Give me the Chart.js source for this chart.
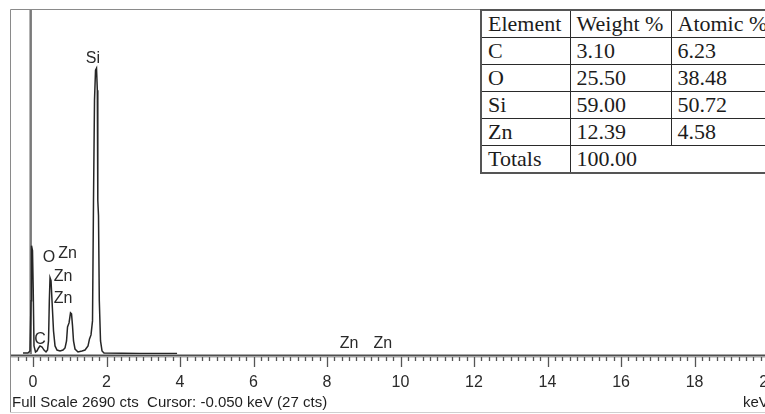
<!DOCTYPE html>
<html>
<head>
<meta charset="utf-8">
<script src="https://cdn.jsdelivr.net/npm/chart.js@4"></script>
<style>
  html, body { margin: 0; padding: 0; background: #fff; overflow: hidden; }
  #wrap { position: relative; width: 765px; height: 414px; overflow: hidden; }
  #spec { position: absolute; left: 0; top: 0; }
  #tbl {
    position: absolute; left: 480px; top: 9px; width: 300px; table-layout: fixed;
    border-collapse: collapse; background: #fff;
    font-family: "Liberation Serif", serif; font-size: 22px; color: #1c1c1c;
    border: 2px solid #555;
  }
  #tbl td { border: 1px solid #2a2a2a; height: 26px; padding: 0 0 0 6px; line-height: 26px; white-space: nowrap; overflow: hidden; }
</style>
</head>
<body>
<div id="wrap">
  <canvas id="spec" width="800" height="414"></canvas>
  <table id="tbl">
    <colgroup><col style="width:89px"><col style="width:101px"><col style="width:110px"></colgroup>
  </table>
</div>
<script>
// spectrum (keV, counts)
var energy = [-0.272, -0.136, -0.082, -0.054, -0.041, -0.014, 0.005, 0.027, 0.068, 0.109,
              0.150, 0.190, 0.245, 0.299, 0.354, 0.395, 0.422, 0.444, 0.463, 0.490,
              0.517, 0.558, 0.599, 0.653, 0.735, 0.816, 0.871, 0.912, 0.939, 0.980,
              1.020, 1.048, 1.075, 1.102, 1.143, 1.224, 1.333, 1.415, 1.497, 1.537,
              1.578, 1.619, 1.646, 1.673, 1.701, 1.728, 1.750, 1.763, 1.782, 1.804,
              1.837, 1.878, 1.932, 2.91, 3.92];
var counts = [8, 8, 24, 416, 847, 808, 518, 63, 16, 24,
              47, 63, 55, 31, 16, 31, 102, 416, 596, 573,
              416, 180, 63, 31, 24, 31, 47, 102, 212, 243,
              322, 314, 220, 102, 39, 16, 24, 31, 63, 118,
              149, 259, 1200, 1984, 2220, 2235, 2063, 1200, 1082, 416,
              102, 24, 8, 4, 4];

// peak labels
var labelText = ['Si', 'O', 'Zn', 'Zn', 'Zn', 'C', 'Zn', 'Zn'];
var labelKeV = [1.63, 0.435, 0.94, 0.816, 0.816, 0.19, 8.60, 9.52];
var labelCts = [2310, 751, 782, 602, 430, 109, 78, 78];

var fullScale = 2690;
var cursorKeV = -0.05;
var footer = 'Full Scale 2690 cts  Cursor: -0.050 keV (27 cts)';
var unitText = 'keV';

// quantification table
var tblHead = ['Element', 'Weight %', 'Atomic %'];
var elements = ['C', 'O', 'Si', 'Zn'];
var weightPct = ['3.10', '25.50', '59.00', '12.39'];
var atomicPct = ['6.23', '38.48', '50.72', '4.58'];
var totalWeight = '100.00';

// build table
var tbl = document.getElementById('tbl');
var body = document.createElement('tbody');
var html = '<tr><td>' + tblHead[0] + '</td><td>' + tblHead[1] + '</td><td>' + tblHead[2] + '</td></tr>';
for (var i = 0; i < elements.length; i++) {
  html += '<tr><td>' + elements[i] + '</td><td>' + weightPct[i] + '</td><td>' + atomicPct[i] + '</td></tr>';
}
html += '<tr><td>Totals</td><td colspan="2">' + totalWeight + '</td></tr>';
body.innerHTML = html;
tbl.appendChild(body);

var pts = energy.map(function (e, i) { return { x: e, y: counts[i] }; });

var decor = {
  id: 'decor',
  beforeDatasetsDraw: function (chart) {
    var c = chart.ctx, xs = chart.scales.x, ys = chart.scales.y;
    var base = ys.getPixelForValue(0);
    c.save();
    // frame
    c.strokeStyle = '#8a8a8a'; c.lineWidth = 1;
    c.beginPath();
    c.moveTo(10.5, 413); c.lineTo(10.5, 9.5); c.lineTo(490, 9.5);
    c.stroke();
    c.strokeStyle = '#cfcfcf';
    c.beginPath(); c.moveTo(10, 412.5); c.lineTo(800, 412.5); c.stroke();
    // cursor
    var cx = xs.getPixelForValue(cursorKeV) - 0.5;
    c.strokeStyle = '#7a7a7a'; c.lineWidth = 2.5;
    c.beginPath(); c.moveTo(cx, 10); c.lineTo(cx, base); c.stroke();
    // axis line
    c.strokeStyle = '#505050'; c.lineWidth = 2;
    c.beginPath(); c.moveTo(11, base + 1.5); c.lineTo(800, base + 1.5); c.stroke();
    c.strokeStyle = '#a0a0a0'; c.lineWidth = 1;
    c.beginPath(); c.moveTo(11, base + 3); c.lineTo(800, base + 3); c.stroke();
    // tick marks, major every 2 keV, minor every 0.2 keV
    c.strokeStyle = '#555'; c.lineWidth = 1.3;
    for (var k = -2; k <= 105; k++) {
      var v = k * 0.2;
      if (v < xs.min || v > xs.max) continue;
      var px = Math.round(xs.getPixelForValue(v)) + 0.5;
      var len = (k % 10 === 0) ? 10 : 4;
      c.beginPath(); c.moveTo(px, base + 3); c.lineTo(px, base + 3 + len); c.stroke();
    }
    c.restore();
  },
  afterDraw: function (chart) {
    var c = chart.ctx, xs = chart.scales.x, ys = chart.scales.y;
    c.save();
    c.fillStyle = '#2a2a2a';
    c.font = '16px "Liberation Sans", Arial, sans-serif';
    c.textAlign = 'center'; c.textBaseline = 'middle';
    for (var i = 0; i < labelText.length; i++) {
      c.fillText(labelText[i], xs.getPixelForValue(labelKeV[i]), ys.getPixelForValue(labelCts[i]));
    }
    c.font = '15px "Liberation Sans", Arial, sans-serif';
    c.textAlign = 'left';
    c.fillStyle = '#1e1e1e';
    c.fillText(footer, 12, 403);
    c.fillText(unitText, 743, 403);
    c.restore();
  }
};

var ctx = document.getElementById('spec').getContext('2d');
var chart = new Chart(ctx, {
  type: 'line',
  data: {
    datasets: [{
      data: pts,
      borderColor: '#262626',
      borderWidth: 1.5,
      pointRadius: 0,
      tension: 0,
      fill: false
    }]
  },
  options: {
    responsive: false,
    animation: false,
    devicePixelRatio: 1,
    layout: { padding: { left: 11, top: 10, right: 0, bottom: 0 } },
    plugins: { legend: { display: false }, tooltip: { enabled: false } },
    scales: {
      x: {
        type: 'linear',
        min: -0.599,
        max: 20.87,
        grid: { display: false, drawTicks: false },
        border: { display: false },
        ticks: {
          stepSize: 2,
          includeBounds: false,
          autoSkip: false,
          maxRotation: 0,
          padding: 19,
          color: '#2a2a2a',
          font: { family: '"Liberation Sans", Arial, sans-serif', size: 16 }
        },
        afterFit: function (scale) { scale.height = 60; }
      },
      y: {
        display: false,
        min: 0,
        max: fullScale
      }
    }
  },
  plugins: [decor]
});
</script>
</body>
</html>
